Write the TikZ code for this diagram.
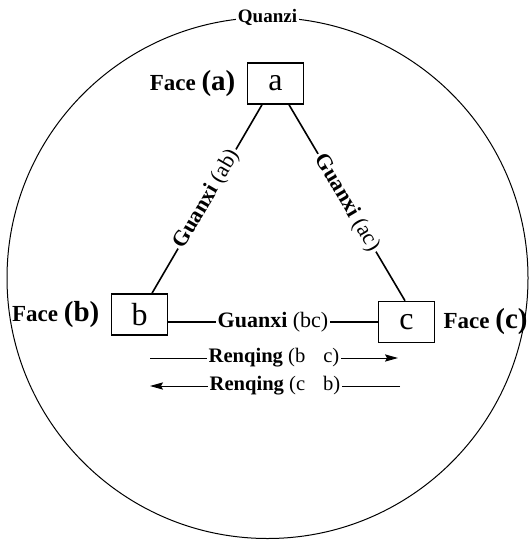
\documentclass[tikz,border=0pt]{standalone}
\usepackage{fontspec}
\setmainfont{Liberation Serif}
\usetikzlibrary{positioning,arrows.meta}

\begin{document}
\begin{tikzpicture}[x=0.5pt,y=-0.5pt,
		caja/.style={draw, line width=0.75pt, minimum width=28pt, minimum height=20.5pt, inner sep=0pt, font=\fontsize{16}{18}\selectfont},
		cara/.style={inner sep=0pt, font=\fontsize{11.5}{13}\selectfont},
		enlace/.style={line width=0.8pt},
		etiqueta/.style={fill=white, inner sep=1pt, font=\fontsize{11}{12}\selectfont},
		renqing/.style={fill=white, inner sep=1pt, font=\fontsize{10.3}{12}\selectfont},
		flecha/.style={line width=0.5pt, -{Stealth[length=6.5pt,width=3.6pt,inset=1pt]}}]
	\useasboundingbox (0,0) rectangle (531,540);
	
	% Círculo (Quanzi)
	\draw[line width=0.5pt] (267.5,278) circle[radius=260.5];
	\node[fill=white, inner sep=1pt, font=\bfseries\fontsize{9.5}{11}\selectfont] (quanzi) at (267.5,17) {Quanzi};
	
	% Personas
	\node[caja] (a) at (275.5,83.5) {a};
	\node[caja] (b) at (139.5,314.5) {b};
	\node[caja] (c) at (406.5,322) {c};
	
	% Face
	\node[cara, left=5.5pt of a] (fa) {\textbf{Face} {\fontsize{14.5}{15}\selectfont\textbf{(a)}}};
	\node[cara, left=5.5pt of b] (fb) {\textbf{Face} {\fontsize{14.5}{15}\selectfont\textbf{(b)}}};
	\node[cara, right=4pt of c] (fc) {\textbf{Face} {\fontsize{14.5}{15}\selectfont\textbf{(c)}}};
	
	% Guanxi
	\draw[enlace] ([xshift=-6.75pt]a.south) -- node[etiqueta, sloped] {\textbf{Guanxi} (ab)} ([xshift=6.25pt]b.north);
	\draw[enlace] ([xshift=6.75pt]a.south) -- node[etiqueta, sloped] {\textbf{Guanxi} (ac)} ([xshift=-0.75pt]c.north);
	\draw[enlace] (b.east |- c.west) -- node[etiqueta] {\textbf{Guanxi} (bc)} (c.west);
	
	% Renqing
	\coordinate (r1a) at (150,358);
	\coordinate (r1b) at (398,358);
	\coordinate (r2a) at (400,386);
	\coordinate (r2b) at (150,386);
	\draw[flecha] (r1a) -- node[renqing] {\textbf{Renqing} (b\hspace{9pt}c)} (r1b);
	\draw[flecha] (r2a) -- node[renqing] {\textbf{Renqing} (c\hspace{9pt}b)} (r2b);
\end{tikzpicture}
\end{document}
